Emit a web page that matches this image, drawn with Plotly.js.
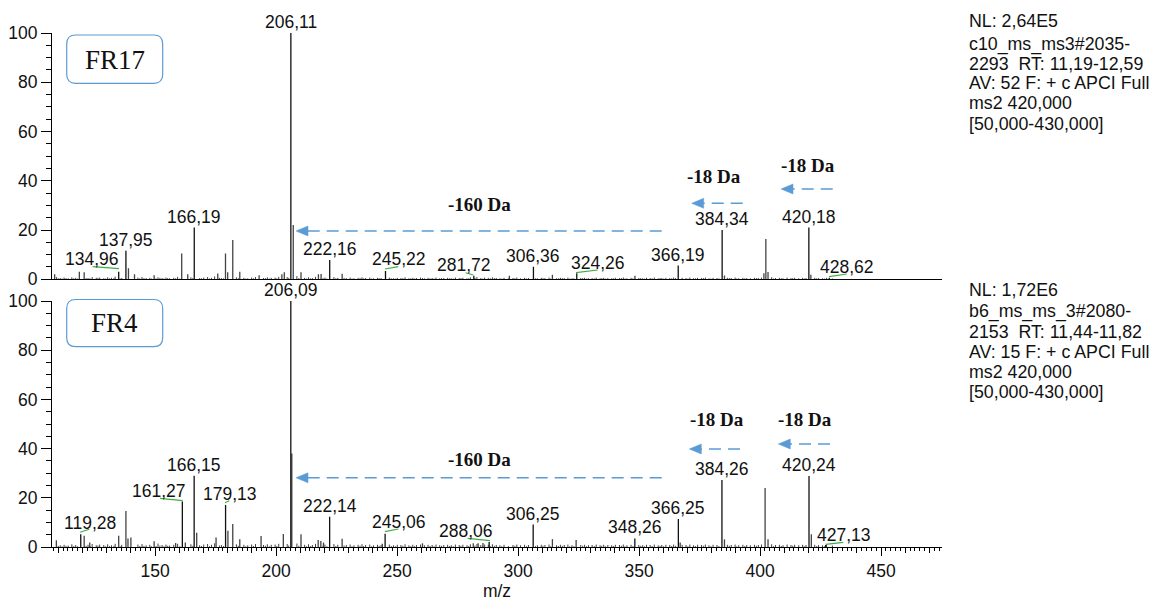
<!DOCTYPE html>
<html>
<head>
<meta charset="utf-8">
<script src="https://cdn.plot.ly/plotly-3.0.1.min.js"></script>
<style>html,body{margin:0;padding:0;background:#fff;}</style>
</head>
<body>
<div id="chart" style="width:1156px;height:601px;"></div>
<script>
// ---------- DATA ----------
// Top spectrum (FR17) - labelled peaks
const topLabMz  = [134.96,137.95,166.19,206.11,222.16,245.22,281.72,306.36,324.26,366.19,384.34,420.18,428.62];
const topLabInt = [3.1,11.6,21.0,100,7.8,3.4,1.4,5.1,2.5,5.6,20.0,21.0,0.6];
// Top spectrum - other visible peaks
const topPkMz  = [108.5,118.7,120.7,139.0,141.5,149.6,161.0,163.5,175.9,179.1,180.0,182.1,185.0,193.0,202.4,203.4,207.1,210.3,217.5,218.6,227.3,296.4,314.2,348.3,385.3,401.6,402.4,403.3,421.0];
const topPkInt = [2.0,3.1,2.9,4.5,2.0,1.6,10.5,2.0,2.4,10.5,2.9,16.0,3.1,1.6,2.0,2.9,22.0,2.9,2.0,2.2,2.3,1.4,1.8,1.4,1.5,2.5,16.4,3.0,1.8];

// Bottom spectrum (FR4) - labelled peaks
const botLabMz  = [119.28,161.27,166.15,179.13,206.09,222.14,245.06,288.06,306.25,348.26,366.25,384.26,420.24,427.13];
const botLabInt = [5.2,18.5,29.0,17.1,100,12.3,5.4,2.0,9.1,3.5,11.4,27.2,28.9,0.8];
// Bottom spectrum - other visible peaks
const botPkMz  = [109.2,120.7,123.0,134.96,137.95,138.8,140.0,149.6,158.5,162.5,167.2,175.2,180.1,182.1,185.0,193.8,203.0,206.5,210.3,217.4,218.5,219.6,227.3,243.9,260.5,281.5,283.5,285.5,314.2,324.0,367.0,385.3,403.3,402.1,421.2];
const botPkInt = [2.7,4.6,1.8,4.6,14.6,3.5,3.9,2.3,1.6,1.8,5.8,3.9,6.6,9.3,3.1,4.5,5.3,38.0,5.2,2.8,2.4,1.8,3.4,1.3,1.5,1.5,1.5,1.6,3.2,2.8,1.8,3.1,3.1,24.0,5.2];

// Baseline noise (small sticks)
const noiseMz = [109.3,110.8,112.4,114.1,115.6,117.2,122.3,124.0,125.7,127.1,
128.8,130.4,132.0,133.5,136.2,142.9,144.6,146.3,147.8,151.2,
152.9,154.5,156.0,157.7,159.3,164.8,168.4,170.1,171.7,173.3,
174.6,177.4,183.6,186.7,188.3,189.9,191.5,194.8,196.4,198.0,
199.6,201.1,204.6,208.6,211.8,213.4,215.0,216.3,220.2,223.9,
225.5,229.0,230.6,232.2,233.9,235.5,237.0,238.7,240.3,241.9,
243.4,246.8,248.5,250.1,251.6,253.3,254.9,256.5,258.0,259.7,
261.3,262.8,264.5,266.1,267.6,269.3,270.9,272.4,274.1,275.7,
277.2,278.9,280.3,283.0,284.6,286.2,287.7,289.4,291.0,292.5,
294.2,297.9,299.5,301.0,302.7,304.3,308.0,309.6,311.1,312.8,
315.9,317.5,319.1,320.6,322.3,325.9,327.5,329.1,330.6,332.3,
333.9,335.4,337.1,338.7,340.2,341.9,343.5,345.0,346.7,349.9,
351.5,353.1,354.6,356.3,357.9,359.4,361.1,362.7,364.3,367.8,
369.4,371.0,372.5,374.2,375.8,377.4,378.9,380.6,382.2,386.5,
388.1,389.7,391.2,392.9,394.5,396.0,397.7,399.3,400.6,404.8,
406.4,408.0,409.5,411.2,412.8,414.3,416.0,417.6,419.0,422.6,
424.2,425.8,427.5,429.9];
const noiseTopInt = [0.9,0.5,0.7,0.4,0.8,0.6,0.5,0.9,0.6,0.7,
0.4,0.8,0.6,1.1,0.5,0.7,0.9,0.5,0.6,0.8,
0.5,0.7,0.4,0.6,1.0,0.8,0.5,0.7,0.9,0.6,
1.2,0.5,0.8,0.6,0.4,0.7,0.9,0.5,0.8,0.6,
0.7,1.0,0.9,1.3,0.6,0.8,0.5,1.0,0.7,0.9,
0.6,0.5,0.7,0.4,0.6,0.8,0.5,0.7,0.4,0.6,
0.5,0.7,0.4,0.6,0.5,0.8,0.4,0.6,0.5,0.7,
0.4,0.6,0.5,0.7,0.4,0.5,0.6,0.4,0.7,0.5,
0.6,0.4,0.8,0.9,0.5,0.7,0.6,0.8,0.5,0.4,
0.6,0.5,0.7,0.4,0.6,0.5,0.4,0.6,0.5,0.7,
0.4,0.6,0.5,0.7,0.4,0.5,0.6,0.4,0.5,0.7,
0.4,0.6,0.5,0.4,0.6,0.5,0.7,0.4,0.6,0.5,
0.4,0.6,0.5,0.7,0.4,0.5,0.6,0.5,0.7,0.6,
0.5,0.7,0.4,0.6,0.5,0.7,0.4,0.6,0.5,0.6,
0.5,0.7,0.4,0.6,0.5,0.4,0.6,0.5,0.7,0.8,
0.5,0.6,0.4,0.7,0.5,0.6,0.4,0.6,0.5,0.6,
0.5,0.4,0.6,0.3];
const noiseBotInt = [1.0,0.7,0.9,0.6,1.1,0.8,0.9,1.2,0.7,1.0,
0.8,1.1,0.7,1.3,0.9,1.0,1.2,0.7,0.9,1.4,
0.8,1.0,0.6,0.9,1.3,1.1,0.7,1.0,1.2,0.9,
1.5,0.8,1.1,0.9,0.7,1.0,1.2,0.8,1.1,0.9,
1.0,1.3,1.2,1.4,0.9,1.1,0.8,1.3,1.0,1.2,
0.9,0.8,1.0,0.7,0.9,1.1,0.8,1.0,0.7,0.9,
0.8,1.0,0.7,0.9,0.8,1.1,0.7,0.9,0.8,1.0,
0.7,0.9,0.8,1.0,0.7,0.8,0.9,0.7,1.0,0.8,
0.9,0.7,1.1,1.2,0.8,1.0,0.9,1.1,0.8,0.7,
0.9,0.8,1.0,0.7,0.9,0.8,0.7,0.9,0.8,1.0,
0.7,0.9,0.8,1.0,0.7,0.8,0.9,0.7,0.8,1.0,
0.7,0.9,0.8,0.7,0.9,0.8,1.0,0.7,0.9,0.8,
0.7,0.9,0.8,1.0,0.7,0.8,0.9,0.8,1.0,0.9,
0.8,1.0,0.7,0.9,0.8,1.0,0.7,0.9,0.8,0.9,
0.8,1.0,0.7,0.9,0.8,0.7,0.9,0.8,1.0,1.1,
0.8,0.9,0.7,1.0,0.8,0.9,0.7,0.9,0.8,0.9,
0.8,0.7,0.9,0.6];
// Extra fine baseline noise (both spectra)
const fineMz = [110.0,111.6,113.2,116.4,118.0,121.5,123.1,126.4,129.6,131.2,
133.0,135.6,143.7,145.4,148.5,150.4,152.0,153.7,155.2,158.5,
160.2,165.6,169.2,172.5,176.6,178.3,184.4,187.5,190.7,195.6,
197.2,200.3,205.2,209.4,212.6,214.2,219.4,221.0,224.7,228.1,
231.4,234.7,236.2,239.5,242.6,247.6,249.3,252.4,255.7,257.2,
260.5,263.6,265.3,268.4,271.7,273.2,276.4,279.6,282.2,285.4,
288.5,290.2,293.3,296.0,298.7,303.5,307.2,310.3,313.5,316.7,
318.3,321.4,323.1,326.7,328.3,331.5,334.6,336.2,339.4,342.7,
344.2,347.5,350.7,352.3,355.4,358.7,360.2,363.5,365.1,370.2,
373.3,376.6,379.7,383.0,387.3,390.4,393.7,398.5,405.6,408.8,
413.5,418.3,423.4,426.6];
const fineInt = [0.4,0.3,0.5,0.4,0.3,0.5,0.4,0.6,0.3,0.4,
0.5,0.3,0.4,0.5,0.3,0.4,0.6,0.3,0.5,0.4,
0.3,0.5,0.4,0.3,0.6,0.4,0.5,0.3,0.4,0.5,
0.3,0.4,0.6,0.5,0.3,0.4,0.5,0.3,0.4,0.6,
0.3,0.5,0.4,0.3,0.5,0.4,0.3,0.5,0.4,0.3,
0.5,0.4,0.3,0.5,0.4,0.3,0.5,0.4,0.6,0.3,
0.4,0.5,0.3,0.4,0.5,0.3,0.4,0.5,0.3,0.4,
0.5,0.3,0.4,0.5,0.3,0.4,0.5,0.3,0.4,0.5,
0.3,0.4,0.5,0.3,0.4,0.5,0.3,0.4,0.5,0.3,
0.4,0.5,0.3,0.4,0.5,0.3,0.4,0.5,0.3,0.4,
0.5,0.3,0.4,0.3];

const topInfo = ["NL: 2,64E5","c10_ms_ms3#2035-","2293\u00a0 RT: 11,19-12,59","AV: 52 F: + c APCI Full","ms2 420,000","[50,000-430,000]"];
const botInfo = ["NL: 1,72E6","b6_ms_ms_3#2080-","2153\u00a0 RT: 11,44-11,82","AV: 15 F: + c APCI Full","ms2 420,000","[50,000-430,000]"];
const panelNames = ["FR17","FR4"];
const lossTexts = ["-160 Da","-18 Da","-18 Da"];

// ---------- HELPERS ----------
const L = 52, T = 33, W = 890, H = 514;
const px = v => (v - L) / W;
const py = v => (T + H - v) / H;
const fmt = m => m.toFixed(2).replace('.', ',');

function sticks(mz, inten, xa, ya, color, width) {
  const x = [], y = [];
  for (let i = 0; i < mz.length; i++) { x.push(mz[i], mz[i], null); y.push(0, inten[i], null); }
  return {type:'scatter', mode:'lines', x:x, y:y, xaxis:xa, yaxis:ya,
          line:{color:color, width:width}, hoverinfo:'skip', showlegend:false};
}

const data = [
  sticks(fineMz, fineInt, 'x2', 'y2', '#555', 1),
  sticks(noiseMz, noiseTopInt, 'x2', 'y2', '#444', 1),
  sticks(topPkMz, topPkInt, 'x2', 'y2', '#444', 1.3),
  sticks(topLabMz, topLabInt, 'x2', 'y2', '#111', 1.3),
  sticks(fineMz, fineInt, 'x', 'y', '#555', 1),
  sticks(noiseMz, noiseBotInt, 'x', 'y', '#444', 1),
  sticks(botPkMz, botPkInt, 'x', 'y', '#444', 1.3),
  sticks(botLabMz, botLabInt, 'x', 'y', '#111', 1.3),
  {type:'scatter', mode:'markers', x:[null], y:[null], xaxis:'x3', yaxis:'y', showlegend:false, hoverinfo:'skip'}
];

// ---------- ANNOTATIONS ----------
const ann = [];
const sans = 'Liberation Sans, Arial, sans-serif';
const labFont = {family:sans, size:17.5, color:'#111'};
// offset label centers (pixel positions) for labels shifted off their peaks
const topOffset = {'134.96':[91.7,259.3],'245.22':[398.8,259],'281.72':[464.2,265],'324.26':[598.3,263.3],'428.62':[847,266.7]};
const botOffset = {'119.28':[90,523.3],'161.27':[159.3,491],'179.13':[229.7,494],'245.06':[398.8,521.7],'288.06':[466.3,530.7],'427.13':[843.7,535]};

function addLabels(mz, inten, xa, ya, offs) {
  for (let i = 0; i < mz.length; i++) {
    const key = mz[i].toFixed(2);
    if (offs[key]) {
      const p = offs[key];
      ann.push({xref:'paper', yref:'paper', x:px(p[0]), y:py(p[1]), text:fmt(mz[i]), showarrow:false,
                xanchor:'center', yanchor:'middle', font:labFont});
    } else {
      ann.push({xref:xa, yref:ya, x:mz[i], y:inten[i], text:fmt(mz[i]), showarrow:false,
                xanchor:'center', yanchor:'bottom', yshift:-1, font:labFont});
    }
  }
}
addLabels(topLabMz, topLabInt, 'x2', 'y2', topOffset);
addLabels(botLabMz, botLabInt, 'x', 'y', botOffset);

// right-side info text
const infoTopY = [20.7, 44.3, 63.7, 83.3, 103.5, 123.5];
const infoBotY = [289.5, 311.7, 331.7, 351.7, 371.7, 391.7];
const infoFont = {family:sans, size:17.8, color:'#111'};
topInfo.forEach((t, i) => ann.push({xref:'paper', yref:'paper', x:px(967), y:py(infoTopY[i]), text:t, showarrow:false, xanchor:'left', yanchor:'middle', font:infoFont}));
botInfo.forEach((t, i) => ann.push({xref:'paper', yref:'paper', x:px(967), y:py(infoBotY[i]), text:t, showarrow:false, xanchor:'left', yanchor:'middle', font:infoFont}));

// panel names
const serif = 'Liberation Serif, Times New Roman, serif';
ann.push({xref:'paper', yref:'paper', x:px(114.7), y:py(59.5), text:panelNames[0], showarrow:false, xanchor:'center', yanchor:'middle', font:{family:serif, size:27, color:'#111'}});
ann.push({xref:'paper', yref:'paper', x:px(114.7), y:py(323), text:panelNames[1], showarrow:false, xanchor:'center', yanchor:'middle', font:{family:serif, size:27, color:'#111'}});

// loss labels
const lossPos = [[479.5,204,0],[714.3,176.7,1],[807.7,165.7,2],[479.5,460,0],[717,419.3,1],[805,419.3,2]];
lossPos.forEach(p => ann.push({xref:'paper', yref:'paper', x:px(p[0]), y:py(p[1]), text:'<b>'+lossTexts[p[2]]+'</b>', showarrow:false, xanchor:'center', yanchor:'middle', font:{family:serif, size:19, color:'#111'}}));

// ---------- SHAPES ----------
const shapes = [];
function roundRect(x0, y0, x1, y1, r) {
  const P = (a, b) => px(a) + ',' + py(b);
  return 'M' + P(x0 + r, y0) + ' L' + P(x1 - r, y0) + ' Q' + P(x1, y0) + ' ' + P(x1, y0 + r) +
         ' L' + P(x1, y1 - r) + ' Q' + P(x1, y1) + ' ' + P(x1 - r, y1) +
         ' L' + P(x0 + r, y1) + ' Q' + P(x0, y1) + ' ' + P(x0, y1 - r) +
         ' L' + P(x0, y0 + r) + ' Q' + P(x0, y0) + ' ' + P(x0 + r, y0) + ' Z';
}
shapes.push({type:'path', xref:'paper', yref:'paper', path:roundRect(66.7, 35, 162.7, 83.3, 9), line:{color:'#5b9bd5', width:1.2}, fillcolor:'rgba(0,0,0,0)'});
shapes.push({type:'path', xref:'paper', yref:'paper', path:roundRect(66.7, 299.5, 162.7, 346.7, 9), line:{color:'#5b9bd5', width:1.2}, fillcolor:'rgba(0,0,0,0)'});

// dashed arrows [tipX, tipY, tailX]
const arrows = [[296,231,661.7],[691.7,203.3,742.7],[781,189,832.7],[296,477.8,661.7],[689.3,449,740],[778.3,444,830]];
arrows.forEach(a => {
  shapes.push({type:'line', xref:'paper', yref:'paper', x0:px(a[2]), y0:py(a[1]), x1:px(a[0] + 6), y1:py(a[1]),
               line:{color:'#5b9bd5', width:1.5, dash:'12px,7px'}});
  const P = (u, v) => px(u) + ',' + py(v);
  shapes.push({type:'path', xref:'paper', yref:'paper',
               path:'M' + P(a[0], a[1]) + ' L' + P(a[0] + 12, a[1] - 5) + ' L' + P(a[0] + 12, a[1] + 5) + ' Z',
               line:{color:'#5b9bd5', width:0.5}, fillcolor:'#5b9bd5'});
});

// green leader lines (pixel positions)
const leaders = [[92.7,266.7,119,268.7],[385,269,398.3,266.7],[465.7,272.7,473.3,275],[576,272.7,597.7,270],[829,276.7,846.7,274],
                 [80,532.3,89.3,529.3],[160,498.3,182.7,500.7],[225,502.7,229.3,500.7],[385,531.7,398.3,529],[467.7,538.3,490,540.7],[825.7,544.3,843.3,542.3]];
leaders.forEach(s => shapes.push({type:'line', xref:'paper', yref:'paper', x0:px(s[0]), y0:py(s[1]), x1:px(s[2]), y1:py(s[3]), line:{color:'#3cb043', width:1.2}}));

// ---------- LAYOUT ----------
const xr = [107.4, 475.2];
const tickFont = {family:sans, size:17.5, color:'#111'};
const yBase = {range:[0,100], tick0:0, dtick:20, ticks:'outside', ticklen:10, tickwidth:1, tickcolor:'#000',
  showline:true, linecolor:'#000', linewidth:1, showgrid:false, zeroline:false, tickfont:tickFont,
  minor:{dtick:5, tick0:0, ticks:'outside', ticklen:5, tickcolor:'#000', showgrid:false}, fixedrange:true};

const layout = {
  width:1156, height:601,
  margin:{l:L, r:1156 - L - W, t:T, b:601 - T - H},
  paper_bgcolor:'#fff', plot_bgcolor:'#fff', showlegend:false,
  font:{family:sans, size:17, color:'#111'},
  xaxis:{domain:[0,1], anchor:'y', range:xr, tick0:0, dtick:50, ticks:'outside', ticklen:8, tickwidth:1, tickcolor:'#000',
         showline:true, linecolor:'#000', linewidth:1, showgrid:false, zeroline:false, tickfont:tickFont,
         minor:{dtick:2, tick0:0, ticks:'outside', ticklen:3, tickcolor:'#000', showgrid:false},
         title:{text:'m/z', standoff:4, font:{family:sans, size:17.5, color:'#111'}}},
  xaxis3:{overlaying:'x', anchor:'y', side:'bottom', range:xr, tick0:0, dtick:10, ticks:'outside', ticklen:5, tickwidth:1, tickcolor:'#000',
         showticklabels:false, showline:false, showgrid:false, zeroline:false},
  xaxis2:{domain:[0,1], anchor:'y2', range:xr, showticklabels:false, ticks:'', showline:true, linecolor:'#000', linewidth:1,
         showgrid:false, zeroline:false},
  yaxis:Object.assign({}, yBase, {domain:[0, (T + H - 301) / H], anchor:'x'}),
  yaxis2:Object.assign({}, yBase, {domain:[(T + H - 279.3) / H, 1], anchor:'x2'}),
  annotations:ann,
  shapes:shapes
};

Plotly.newPlot('chart', data, layout, {staticPlot:true, displayModeBar:false});
</script>
</body>
</html>
